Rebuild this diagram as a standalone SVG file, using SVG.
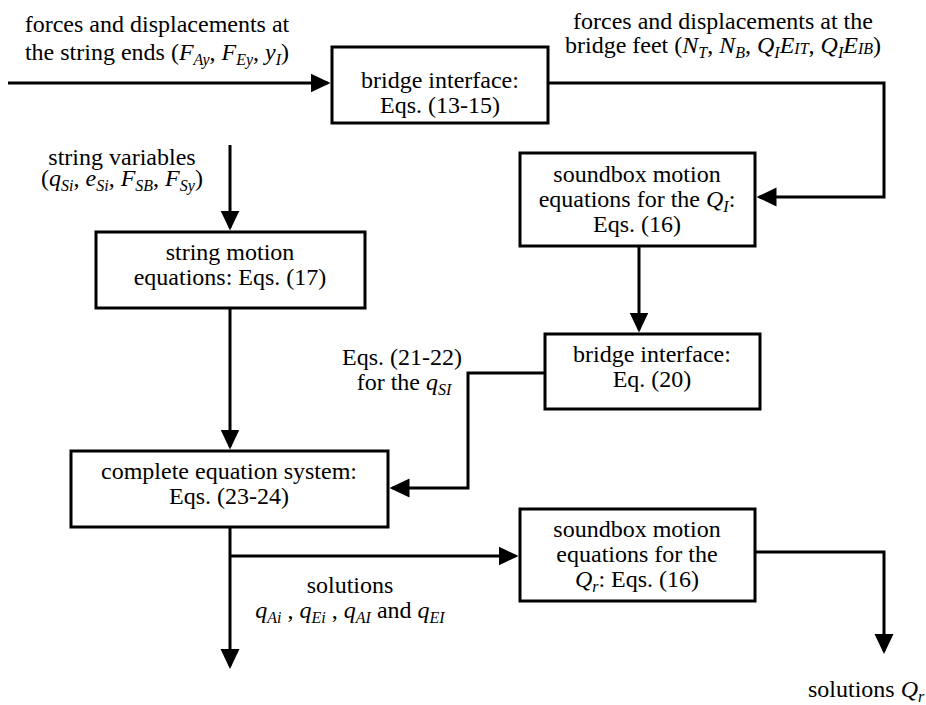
<svg xmlns="http://www.w3.org/2000/svg" width="926" height="705" viewBox="0 0 926 705">
<defs>
<style>
.box{fill:#fff;stroke:#000;stroke-width:3}
.c{fill:none;stroke:#000;stroke-width:3}
.i{font-family:'Times New Roman',serif;font-style:italic}
.s{font-family:'Times New Roman',serif;font-style:italic;font-size:16px}
</style>
<marker id="arr" markerUnits="userSpaceOnUse" viewBox="0 0 20 20" refX="17" refY="10" markerWidth="20" markerHeight="20" orient="auto">
<path d="M0,0.5 L20,10 L0,19.5 Z" fill="#000"/>
</marker>
</defs>
<rect width="926" height="705" fill="#fff"/>
<g id="connectors">
<path class="c" d="M8,83 H327.5" marker-end="url(#arr)"/>
<path class="c" d="M548,83 H884 V197 H759.5" marker-end="url(#arr)"/>
<path class="c" d="M230,145 V227.5" marker-end="url(#arr)"/>
<path class="c" d="M230,308 V446.5" marker-end="url(#arr)"/>
<path class="c" d="M639,246 V329.5" marker-end="url(#arr)"/>
<path class="c" d="M545,373 H468 V488 H392.5" marker-end="url(#arr)"/>
<path class="c" d="M230,527 V666" marker-end="url(#arr)"/>
<path class="c" d="M230,556 H515.5" marker-end="url(#arr)"/>
<path class="c" d="M755,552 H884 V651" marker-end="url(#arr)"/>
</g>
<g id="labels" font-family="Liberation Serif" font-size="24">
<text text-anchor="middle" x="157" y="32">forces and displacements at</text>
<text text-anchor="middle" x="157" y="60">the string ends (<tspan class="i">F</tspan><tspan class="s" dy="5">Ay</tspan><tspan dy="-5">, </tspan><tspan class="i">F</tspan><tspan class="s" dy="5">Ey</tspan><tspan dy="-5">, </tspan><tspan class="i">y</tspan><tspan class="s" dy="5">I</tspan><tspan dy="-5">)</tspan></text>
<text text-anchor="middle" x="723" y="29">forces and displacements at the</text>
<text text-anchor="middle" x="723" y="53">bridge feet (<tspan class="i">N</tspan><tspan class="s" dy="5">T</tspan><tspan dy="-5">, </tspan><tspan class="i">N</tspan><tspan class="s" dy="5">B</tspan><tspan dy="-5">, </tspan><tspan class="i">Q</tspan><tspan class="s" dy="5">I</tspan><tspan class="i" dy="-5">E</tspan><tspan class="s" dy="1">IT</tspan><tspan dy="-1">, </tspan><tspan class="i">Q</tspan><tspan class="s" dy="5">I</tspan><tspan class="i" dy="-5">E</tspan><tspan class="s" dy="1">IB</tspan><tspan dy="-1">)</tspan></text>
<text text-anchor="middle" x="122" y="165">string variables</text>
<text text-anchor="middle" x="122" y="186">(<tspan class="i">q</tspan><tspan class="s" dy="5">Si</tspan><tspan dy="-5">, </tspan><tspan class="i">e</tspan><tspan class="s" dy="5">Si</tspan><tspan dy="-5">, </tspan><tspan class="i">F</tspan><tspan class="s" dy="5">SB</tspan><tspan dy="-5">, </tspan><tspan class="i">F</tspan><tspan class="s" dy="5">Sy</tspan><tspan dy="-5">)</tspan></text>
<text text-anchor="middle" x="402" y="365">Eqs. (21-22)</text>
<text text-anchor="middle" x="404" y="390">for the <tspan class="i">q</tspan><tspan class="s" dy="5">SI</tspan></text>
<text text-anchor="middle" x="350" y="593">solutions</text>
<text text-anchor="middle" x="350" y="618"><tspan class="i">q</tspan><tspan class="s" dy="5">Ai</tspan><tspan dy="-5"> , </tspan><tspan class="i">q</tspan><tspan class="s" dy="5">Ei</tspan><tspan dy="-5"> , </tspan><tspan class="i">q</tspan><tspan class="s" dy="5">AI</tspan><tspan dy="-5"> and </tspan><tspan class="i">q</tspan><tspan class="s" dy="5">EI</tspan></text>
<text x="808" y="697">solutions <tspan class="i">Q</tspan><tspan class="s" dy="5">r</tspan></text>
</g>
<g id="bridge-interface-1" font-family="Liberation Serif" font-size="24" text-anchor="middle">
<rect class="box" x="332" y="47" width="216" height="76"/>
<text x="440" y="88">bridge interface:</text>
<text x="440" y="113">Eqs. (13-15)</text>
</g>
<g id="soundbox-1" font-family="Liberation Serif" font-size="24" text-anchor="middle">
<rect class="box" x="520" y="153" width="235" height="93"/>
<text x="637" y="182">soundbox motion</text>
<text x="637" y="207">equations for the <tspan class="i">Q</tspan><tspan class="s" dy="5">I</tspan><tspan dy="-5">:</tspan></text>
<text x="637" y="232">Eqs. (16)</text>
</g>
<g id="bridge-interface-2" font-family="Liberation Serif" font-size="24" text-anchor="middle">
<rect class="box" x="545" y="334" width="215" height="75"/>
<text x="652" y="362">bridge interface:</text>
<text x="652" y="387">Eq. (20)</text>
</g>
<g id="string-motion" font-family="Liberation Serif" font-size="24" text-anchor="middle">
<rect class="box" x="96" y="232" width="269" height="76"/>
<text x="230" y="260">string motion</text>
<text x="230" y="285">equations: Eqs. (17)</text>
</g>
<g id="complete-system" font-family="Liberation Serif" font-size="24" text-anchor="middle">
<rect class="box" x="71" y="451" width="317" height="76"/>
<text x="229" y="479">complete equation system:</text>
<text x="229" y="504">Eqs. (23-24)</text>
</g>
<g id="soundbox-2" font-family="Liberation Serif" font-size="24" text-anchor="middle">
<rect class="box" x="520" y="509" width="235" height="92"/>
<text x="637" y="537">soundbox motion</text>
<text x="637" y="562">equations for the</text>
<text x="637" y="587"><tspan class="i">Q</tspan><tspan class="s" dy="5">r</tspan><tspan dy="-5">: Eqs. (16)</tspan></text>
</g>
</svg>
